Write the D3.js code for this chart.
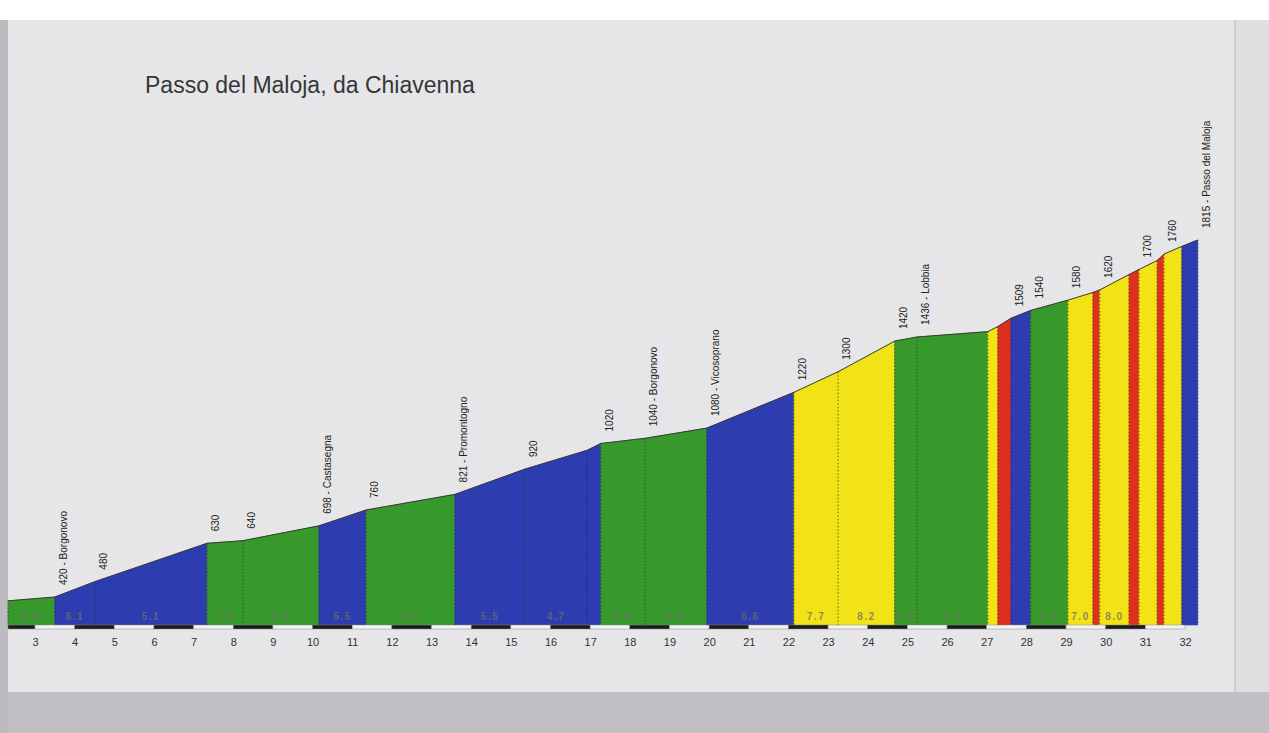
<!DOCTYPE html>
<head>
  <meta charset="utf-8">
  <title>Passo del Maloja</title>
  <style>
      body { margin: 0; background: #c4c2c6; overflow: hidden; }
      svg { display: block; font-family: "Liberation Sans", Arial, sans-serif; }
  </style>
  <script src="https://d3js.org/d3.v7.js"></script>
</head>
<body>
<svg id="chart" width="1269" height="733"></svg>
<script>
    // profile points: km, altitude, label above the point
    const kms = [2.32, 3.50, 4.51, 7.34, 8.24, 10.16, 11.35, 13.59, 15.36, 16.92, 17.27, 18.38, 19.94, 22.14, 23.25,
        24.68, 25.24, 27.03, 27.28, 27.61, 28.11, 29.05, 29.68, 29.85, 30.59, 30.84, 31.30, 31.47, 31.92, 32.32];
    const altitudes = [405, 420, 480, 630, 640, 698, 760, 821, 920, 993, 1020, 1040, 1080, 1220, 1300,
        1420, 1436, 1457, 1477, 1509, 1540, 1580, 1610, 1620, 1680, 1700, 1735, 1760, 1790, 1815];
    const pointLabels = ["", "420 - Borgonovo", "480", "630", "640", "698 - Castasegna", "760", "821 - Promontogno",
        "920", "", "1020", "1040 - Borgonovo", "1080 - Vicosoprano", "1220", "1300", "1420", "1436 - Lobbia",
        "", "", "1509", "1540", "1580", "", "1620", "", "1700", "", "1760", "", "1815 - Passo del Maloja"];

    // one entry per segment between two points
    const segClass = ["g", "b", "b", "g", "g", "b", "g", "b", "b", "b", "g", "g", "b", "y", "y", "g", "g", "y", "r", "b",
        "g", "y", "r", "y", "r", "y", "r", "y", "b"];
    const segLabels = ["1.4", "6.1", "5.1", "1.2", "2.9", "5.5", "2.6", "5.5", "4.7", "", "1.9", "2.5", "6.6", "7.7", "8.2",
        "2.9", "1.2", "", "", "", "2.0", "7.0", "", "8.0", "", "", "", "", ""];

    const kmTicks = d3.range(3, 33);

    const colors = {g: "#37982c", b: "#2d3db0", y: "#f1e316", r: "#df2f1f"};

    const svg = d3.select("#chart");

    // photo / paper background
    svg.append("rect").attr("x", 0).attr("y", 0).attr("width", 1269).attr("height", 733).attr("fill", "#c2bfc5");
    svg.append("rect").attr("x", 0).attr("y", 0).attr("width", 1269).attr("height", 20).attr("fill", "#ffffff");
    svg.append("rect").attr("x", 1235).attr("y", 20).attr("width", 34).attr("height", 672).attr("fill", "#dfdfe1");
    svg.append("rect").attr("x", 8).attr("y", 20).attr("width", 1227).attr("height", 672).attr("fill", "#e6e6e8");
    svg.append("line").attr("x1", 1235).attr("x2", 1235).attr("y1", 20).attr("y2", 692)
        .attr("stroke", "#c8c8cc").attr("stroke-width", 1.5);
    svg.append("rect").attr("x", 0).attr("y", 20).attr("width", 8).attr("height", 713).attr("fill", "#bdbbc0");

    // title
    svg.append("text")
        .attr("x", 145).attr("y", 93)
        .style("font-size", "23px")
        .style("fill", "#363636")
        .text("Passo del Maloja, da Chiavenna");

    const x = d3.scaleLinear().domain([3, 32]).range([35, 1185]);
    const y = d3.scaleLinear().domain([420, 1815]).range([597, 240]);
    const baseY = 625;

    const pts = kms.map((k, i) => ({km: k, alt: altitudes[i], label: pointLabels[i]}));
    const segs = segClass.map((c, i) => ({a: pts[i], b: pts[i + 1], cls: c, label: segLabels[i]}));

    const area = d3.area()
        .x(d => x(d.km))
        .y0(baseY)
        .y1(d => y(d.alt));

    // coloured segments
    svg.append("g").selectAll("path")
        .data(segs)
        .join("path")
        .attr("d", d => area([d.a, d.b]))
        .attr("fill", d => colors[d.cls])
        .attr("stroke", d => colors[d.cls])
        .attr("stroke-width", 0.6);

    // dotted separators
    svg.append("g").selectAll("line")
        .data(pts)
        .join("line")
        .attr("x1", d => x(d.km)).attr("x2", d => x(d.km))
        .attr("y1", d => y(d.alt)).attr("y2", baseY)
        .attr("stroke", "#1e2a20")
        .attr("stroke-opacity", 0.55)
        .attr("stroke-width", 1.2)
        .attr("stroke-dasharray", "1.5,2");

    // top outline
    svg.append("path")
        .datum(pts)
        .attr("d", d3.line().x(d => x(d.km)).y(d => y(d.alt)))
        .attr("fill", "none")
        .attr("stroke", "#3a3a3a")
        .attr("stroke-width", 1);

    // gradient labels
    svg.append("g").selectAll("text")
        .data(segs.filter(d => d.label))
        .join("text")
        .attr("x", d => (x(d.a.km) + x(d.b.km)) / 2)
        .attr("y", 620)
        .attr("text-anchor", "middle")
        .style("font-size", "10px")
        .style("font-weight", "bold")
        .style("letter-spacing", "1.5px")
        .style("fill", "#6e6e60")
        .style("fill-opacity", 0.75)
        .text(d => d.label);

    // altitude labels
    svg.append("g").selectAll("text")
        .data(pts.filter(d => d.label))
        .join("text")
        .attr("transform", d => `translate(${x(d.km) + 12},${y(d.alt) - 12}) rotate(-90)`)
        .style("font-size", "10px")
        .style("fill", "#222")
        .text(d => d.label);

    // km bar
    const bar = d3.range(2, 32);
    svg.append("g").selectAll("rect")
        .data(bar)
        .join("rect")
        .attr("x", d => Math.max(8, x(d)))
        .attr("y", baseY)
        .attr("width", d => x(d + 1) - Math.max(8, x(d)))
        .attr("height", 4)
        .attr("fill", d => d % 2 === 0 ? "#1c1c1c" : "#f4f4f4")
        .attr("stroke", "#888")
        .attr("stroke-width", 0.5);

    // km axis
    svg.append("g")
        .attr("transform", `translate(0, ${baseY + 8})`)
        .call(d3.axisBottom(x).tickValues(kmTicks).tickSize(0).tickPadding(5))
        .call(g => g.select(".domain").remove())
        .selectAll("text")
        .style("font-size", "11px")
        .style("font-family", "Liberation Sans, Arial, sans-serif")
        .style("fill", "#333");
</script>
</body>
